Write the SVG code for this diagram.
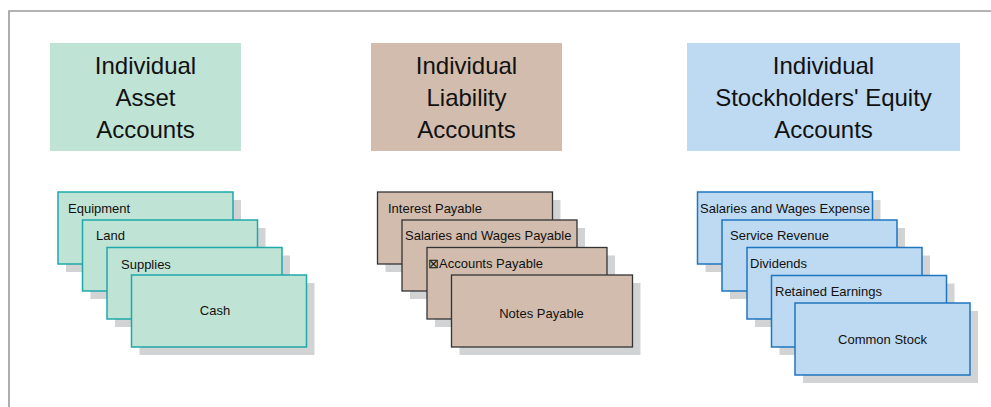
<svg xmlns="http://www.w3.org/2000/svg" width="991" height="407" viewBox="0 0 991 407">
  <style>
    .frame { fill: none; stroke: #9a9a9a; stroke-width: 1.6; }
    .head { font-family: "Liberation Sans", Arial, sans-serif; font-size: 24px; fill: #111; text-anchor: middle; }
    .lbl { font-family: "Liberation Sans", Arial, sans-serif; font-size: 13px; fill: #111; }
    .mid { text-anchor: middle; }
    .shadow { fill: #d2d3d5; }
    .asset-h { fill: #bfe3d4; }
    .liab-h { fill: #d1bcae; }
    .eq-h { fill: #bddaf2; }
    .asset { fill: #bfe3d4; stroke: #1fa9a9; stroke-width: 1.5; }
    .liab { fill: #d1bcae; stroke: #333; stroke-width: 1.3; }
    .eq { fill: #bddaf2; stroke: #1f76c0; stroke-width: 1.5; }
  </style>

  <!-- outer frame: top and left rules -->
  <path class="frame" d="M9 407 V11 H991"/>

  <!-- column headers -->
  <g id="asset-header">
    <rect class="asset-h" x="50" y="43" width="191" height="108"/>
    <text class="head" x="145.5" y="74">Individual</text>
    <text class="head" x="145.5" y="106">Asset</text>
    <text class="head" x="145.5" y="138">Accounts</text>
  </g>
  <g id="liability-header">
    <rect class="liab-h" x="371" y="43" width="191" height="108"/>
    <text class="head" x="466.5" y="74">Individual</text>
    <text class="head" x="466.5" y="106">Liability</text>
    <text class="head" x="466.5" y="138">Accounts</text>
  </g>
  <g id="equity-header">
    <rect class="eq-h" x="687" y="43" width="273" height="108"/>
    <text class="head" x="823.5" y="74">Individual</text>
    <text class="head" x="823.5" y="106">Stockholders' Equity</text>
    <text class="head" x="823.5" y="138">Accounts</text>
  </g>

  <!-- asset account cards -->
  <g id="asset-equipment">
    <rect class="shadow" x="66" y="200" width="175" height="72"/>
    <rect class="asset" x="58" y="192" width="175" height="72"/>
    <text class="lbl" x="68" y="213">Equipment</text>
  </g>
  <g id="asset-land">
    <rect class="shadow" x="90.5" y="228" width="175" height="71"/>
    <rect class="asset" x="82.5" y="220" width="175" height="71"/>
    <text class="lbl" x="96" y="240">Land</text>
  </g>
  <g id="asset-supplies">
    <rect class="shadow" x="115" y="255.5" width="175" height="71.5"/>
    <rect class="asset" x="107" y="247.5" width="175" height="71.5"/>
    <text class="lbl" x="121" y="269">Supplies</text>
  </g>
  <g id="asset-cash">
    <rect class="shadow" x="139.5" y="283" width="175" height="72"/>
    <rect class="asset" x="131.5" y="275" width="175" height="72"/>
    <text class="lbl mid" x="215" y="315">Cash</text>
  </g>

  <!-- liability account cards -->
  <g id="liab-interest">
    <rect class="shadow" x="385.5" y="200" width="175" height="72"/>
    <rect class="liab" x="377.5" y="192" width="175" height="72"/>
    <text class="lbl" x="388" y="213">Interest Payable</text>
  </g>
  <g id="liab-salaries">
    <rect class="shadow" x="410" y="228" width="175" height="71"/>
    <rect class="liab" x="402" y="220" width="175" height="71"/>
    <text class="lbl" x="405" y="240">Salaries and Wages Payable</text>
  </g>
  <g id="liab-accounts">
    <rect class="shadow" x="435" y="255.5" width="180" height="71.5"/>
    <rect class="liab" x="427" y="247.5" width="180" height="71.5"/>
    <text class="lbl" x="428" y="268">⊠Accounts Payable</text>
  </g>
  <g id="liab-notes">
    <rect class="shadow" x="459.5" y="283" width="181" height="72"/>
    <rect class="liab" x="451.5" y="275" width="181" height="72"/>
    <text class="lbl mid" x="541.5" y="318">Notes Payable</text>
  </g>

  <!-- stockholders' equity account cards -->
  <g id="eq-salaries-expense">
    <rect class="shadow" x="705.5" y="200" width="175" height="72"/>
    <rect class="eq" x="697.5" y="192" width="175" height="72"/>
    <text class="lbl" x="700" y="213">Salaries and Wages Expense</text>
  </g>
  <g id="eq-service-revenue">
    <rect class="shadow" x="730" y="228" width="175" height="71"/>
    <rect class="eq" x="722" y="220" width="175" height="71"/>
    <text class="lbl" x="730" y="240">Service Revenue</text>
  </g>
  <g id="eq-dividends">
    <rect class="shadow" x="755" y="255.5" width="175" height="71.5"/>
    <rect class="eq" x="747" y="247.5" width="175" height="71.5"/>
    <text class="lbl" x="750" y="268">Dividends</text>
  </g>
  <g id="eq-retained-earnings">
    <rect class="shadow" x="779.5" y="283.5" width="175" height="71.5"/>
    <rect class="eq" x="771.5" y="275.5" width="175" height="71.5"/>
    <text class="lbl" x="775" y="296">Retained Earnings</text>
  </g>
  <g id="eq-common-stock">
    <rect class="shadow" x="803" y="311" width="175" height="72"/>
    <rect class="eq" x="795" y="303" width="175" height="72"/>
    <text class="lbl mid" x="882.5" y="344">Common Stock</text>
  </g>
</svg>
